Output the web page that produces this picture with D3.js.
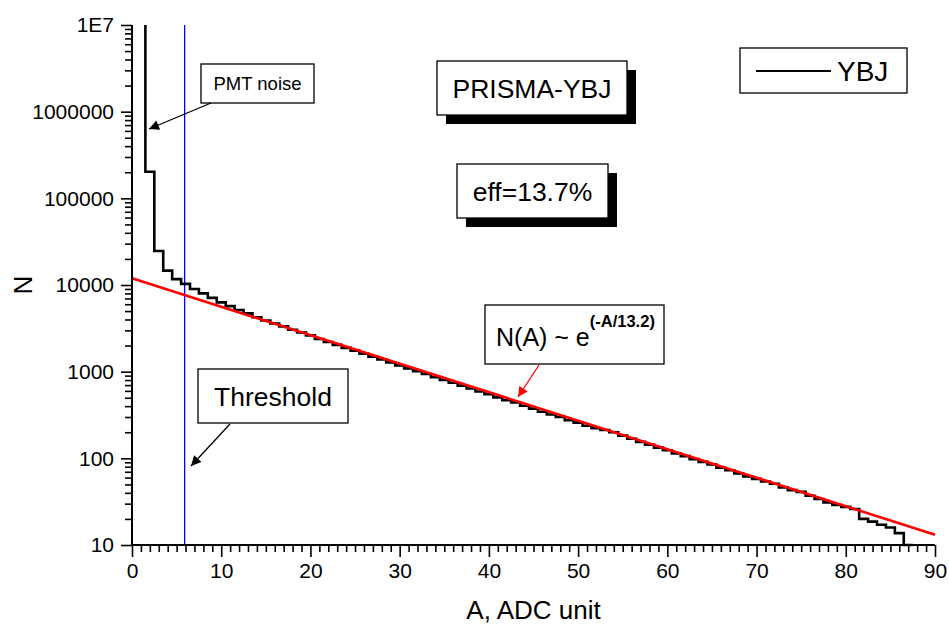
<!DOCTYPE html>
<meta charset="utf-8">
<title>PRISMA-YBJ amplitude spectrum</title>
<style type="text/css">
	body { margin: 0; background: #fff; }
	svg { font-family: "Liberation Sans", Arial, sans-serif; }
</style>
<body>
<div id="chart"></div>
</body>
<script src="https://d3js.org/d3.v7.min.js"></script>
<script>

// histogram: counts per 1-unit ADC bin, bins centred at A = 1, 2, 3 ...
var firstBin = 1;
var counts = [
	20000000, 203000, 24700, 14650, 11700, 10300, 9000, 8000, 7100, 6300,
	5700, 5150, 4700, 4250, 3900, 3600, 3330, 3050, 2830, 2620,
	2380, 2200, 2040, 1880, 1740, 1610, 1490, 1380, 1280, 1180,
	1090, 1010, 940, 865, 800, 745, 690, 640, 590, 550,
	505, 470, 440, 405, 375, 345, 320, 300, 275, 258,
	238, 222, 212, 200, 183, 168, 155, 144, 133, 124,
	114, 106, 98, 91, 85, 78, 73, 67, 62, 58,
	54, 51, 46, 43, 41, 37, 34, 31, 29, 27.5,
	26, 20, 18.6, 17.1, 15.9, 13.7, 10
];

// exponential fit N(A) ~ N0 * exp(-A/13.2)
var fitN0 = 12000;
var fitTau = 13.2;
var fitRange = [0, 90];

// threshold
var thresholdA = 5.9;

// axes
var xDomain = [0, 90];
var yDomain = [10, 1e7];
var xTicks = [0, 10, 20, 30, 40, 50, 60, 70, 80, 90];
var yTicks = [10, 100, 1000, 10000, 100000, 1000000, 10000000];
var yTickLabels = ["10", "100", "1000", "10000", "100000", "1000000", "1E7"];

var W = 949, H = 627;
var margin = {top: 25, right: 14, bottom: 82, left: 132};
var width = W - margin.left - margin.right,
	height = H - margin.top - margin.bottom;

var svg = d3.select("#chart").append("svg")
	.attr("width", W)
	.attr("height", H);

var g = svg.append("g")
	.attr("transform", "translate(" + margin.left + "," + margin.top + ")");

var x = d3.scaleLinear().domain(xDomain).range([0, width]);
var y = d3.scaleLog().domain(yDomain).range([height, 0]);

// clip so the noise peak is cut at the top
g.append("clipPath").attr("id", "plotClip")
	.append("rect").attr("x", 0).attr("y", 0).attr("width", width).attr("height", height + 2);

// threshold line
g.append("line")
	.attr("x1", x(thresholdA)).attr("x2", x(thresholdA))
	.attr("y1", 0).attr("y2", height)
	.attr("stroke", "#0000ff")
	.attr("stroke-width", 1.3);

// step histogram
var stepPts = [];
counts.forEach(function(v, i) {
	var c = firstBin + i;
	stepPts.push([c - 0.5, v]);
	stepPts.push([c + 0.5, v]);
});
g.append("path")
	.datum(stepPts)
	.attr("clip-path", "url(#plotClip)")
	.attr("d", d3.line()
		.x(function(d) { return x(d[0]); })
		.y(function(d) { return y(d[1]); }))
	.attr("fill", "none")
	.attr("stroke", "#000")
	.attr("stroke-width", 2.6)
	.attr("stroke-linejoin", "miter");

// fit line
g.append("path")
	.datum(fitRange)
	.attr("d", d3.line()
		.x(function(a) { return x(a); })
		.y(function(a) { return y(fitN0 * Math.exp(-a / fitTau)); }))
	.attr("fill", "none")
	.attr("stroke", "#ff0000")
	.attr("stroke-width", 2.6);

// axes
var minorX = d3.range(xDomain[0], xDomain[1] + 1, 1).filter(function(d) { return d % 10 !== 0; });
var xAxis = g.append("g").attr("transform", "translate(0," + height + ")");
xAxis.call(d3.axisBottom(x).tickValues(minorX).tickSize(7).tickFormat(""));
xAxis.append("g").call(d3.axisBottom(x).tickValues(xTicks).tickSize(12).tickPadding(6)
	.tickFormat(d3.format("d")));

var minorY = [];
yTicks.slice(0, -1).forEach(function(t) {
	for (var k = 2; k <= 9; k++) minorY.push(t * k);
});
var yAxis = g.append("g");
yAxis.call(d3.axisLeft(y).tickValues(minorY).tickSize(7).tickFormat(""));
yAxis.append("g").call(d3.axisLeft(y).tickValues(yTicks).tickSize(11).tickPadding(7)
	.tickFormat(function(d, i) { return yTickLabels[i]; }));

g.selectAll(".domain").attr("stroke-width", 2);
xAxis.selectAll(".domain").attr("d", "M0,0H" + width);
yAxis.selectAll(".domain").attr("d", "M0," + height + "V0");
g.selectAll(".tick line").attr("stroke-width", 1.6);
g.selectAll(".tick text").attr("font-size", 21).attr("font-family", "Liberation Sans").attr("fill", "#000");

// axis titles
svg.append("text")
	.attr("x", margin.left + width / 2).attr("y", 619)
	.attr("text-anchor", "middle")
	.attr("font-size", 26)
	.text("A, ADC unit");
svg.append("text")
	.attr("transform", "translate(32," + (margin.top + height / 2) + ") rotate(-90)")
	.attr("text-anchor", "middle")
	.attr("font-size", 26)
	.text("N");

// arrow heads
var defs = svg.append("defs");
[["arrBlack", "#000"], ["arrRed", "#ff0000"]].forEach(function(a) {
	defs.append("marker").attr("id", a[0])
		.attr("viewBox", "0 0 10 10").attr("refX", 10).attr("refY", 5)
		.attr("markerWidth", 16).attr("markerHeight", 10)
		.attr("markerUnits", "userSpaceOnUse")
		.attr("orient", "auto")
		.append("path").attr("d", "M0,0L10,5L0,10z").attr("fill", a[1]);
});

function labelBox(x0, y0, w, h, txt, size, shadow) {
	if (shadow) {
		svg.append("rect").attr("x", x0 + 9).attr("y", y0 + 9)
			.attr("width", w).attr("height", h).attr("fill", "#000");
	}
	svg.append("rect").attr("x", x0).attr("y", y0)
		.attr("width", w).attr("height", h)
		.attr("fill", "#fff").attr("stroke", "#000").attr("stroke-width", 1.3);
	return svg.append("text")
		.attr("x", x0 + w / 2).attr("y", y0 + h / 2)
		.attr("dy", "0.36em")
		.attr("text-anchor", "middle")
		.attr("font-size", size)
		.text(txt);
}

function arrow(x1, y1, x2, y2, col, id) {
	svg.append("line")
		.attr("x1", x1).attr("y1", y1).attr("x2", x2).attr("y2", y2)
		.attr("stroke", col).attr("stroke-width", 1.3)
		.attr("marker-end", "url(#" + id + ")");
}

labelBox(201, 64, 113, 39, "PMT noise", 18.5, false);
arrow(211, 103, 149, 129, "#000", "arrBlack");

labelBox(437, 61, 190, 54, "PRISMA-YBJ", 26.5, true);
labelBox(457, 164, 151, 54, "eff=13.7%", 26.5, true);

labelBox(198, 369, 150, 54, "Threshold", 26.5, false);
arrow(230, 424, 191, 466, "#000", "arrBlack");

// fit formula label
svg.append("rect").attr("x", 485).attr("y", 305).attr("width", 179).attr("height", 59)
	.attr("fill", "#fff").attr("stroke", "#000").attr("stroke-width", 1.3);
var ft = svg.append("text").attr("x", 496).attr("y", 346).attr("font-size", 25);
ft.append("tspan").text("N(A) ~ e");
ft.append("tspan").attr("dy", -19).attr("font-size", 16.5).attr("font-weight", "bold").text("(-A/13.2)");
arrow(539, 365, 518, 397, "#ff0000", "arrRed");

// legend
svg.append("rect").attr("x", 740).attr("y", 48).attr("width", 167).attr("height", 45)
	.attr("fill", "#fff").attr("stroke", "#000").attr("stroke-width", 1.3);
svg.append("line").attr("x1", 756).attr("x2", 831).attr("y1", 71).attr("y2", 71)
	.attr("stroke", "#000").attr("stroke-width", 2.2);
svg.append("text").attr("x", 837).attr("y", 71).attr("dy", "0.36em")
	.attr("font-size", 28).text("YBJ");

</script>
</body>
